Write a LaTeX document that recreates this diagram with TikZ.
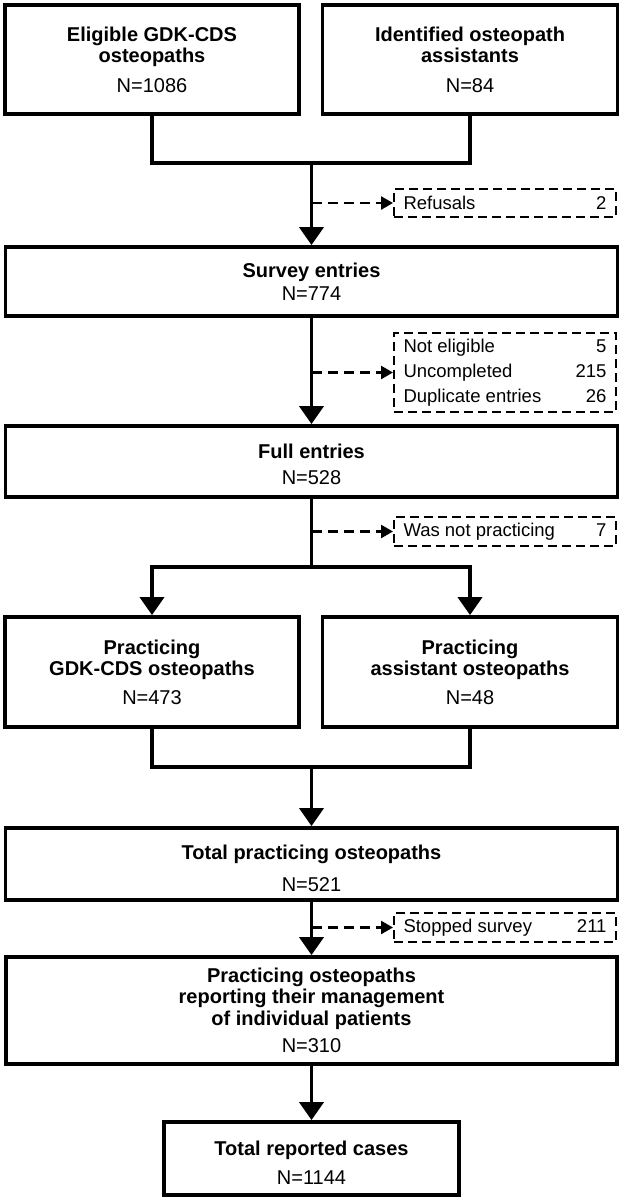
\documentclass[tikz,border=0pt]{standalone}
\usepackage{fontspec}
\setmainfont{Liberation Sans}
\usetikzlibrary{arrows.meta,calc}
\begin{document}
\begin{tikzpicture}[x=1pt,y=-1pt,
  box/.style={draw, line width=3.8pt, inner sep=0pt, align=center,
    font=\fontsize{20}{21.5}\selectfont\bfseries},
  exbox/.style={draw, dash pattern=on 9pt off 5pt, line width=2pt, inner sep=0pt,
    minimum width=222pt, font=\fontsize{18.5}{25}\selectfont},
  conline/.style={line width=3.8pt},
  arr/.style={line width=3.8pt, -{Triangle[width=24pt,length=18pt]}},
  darr/.style={line width=2.5pt, dash pattern=on 10pt off 6pt, -{Triangle[width=13pt,length=12pt]}}]
\useasboundingbox (0,0) rectangle (622,1199);

\node[box, minimum width=294pt, minimum height=109pt] (A) at (152,59.5)
  {Eligible GDK-CDS\\osteopaths\\[8pt]\textmd{N=1086}};
\node[box, minimum width=295pt, minimum height=109pt] (B) at (470,59.5)
  {Identified osteopath\\assistants\\[8pt]\textmd{N=84}};
\coordinate (j1) at (311.5,163);
\node[exbox, minimum height=28pt] (ex1) at (505,203)
  {\makebox[203pt]{Refusals\hfill 2}};
\node[box, minimum width=612pt, minimum height=69pt] (C) at (311.5,281.5)
  {Survey entries\\[1.5pt]\textmd{N=774}};
\node[exbox, minimum height=79pt] (ex2) at (505,372.5)
  {\parbox{203pt}{Not eligible\hfill 5\\Uncompleted\hfill 215\\Duplicate entries\hfill 26}};
\node[box, minimum width=612pt, minimum height=71pt] (D) at (311.5,461.5)
  {\rule{0pt}{21pt}Full entries\\[4.5pt]\textmd{N=528}};
\node[exbox, minimum height=29pt] (ex3) at (505,531.5)
  {\makebox[203pt]{Was not practicing\hfill 7}};
\coordinate (split) at (311.5,567);
\node[box, minimum width=294pt, minimum height=110pt] (E) at (152,672)
  {Practicing\\GDK-CDS osteopaths\\[7pt]\textmd{N=473}};
\node[box, minimum width=295pt, minimum height=110pt] (F) at (470,672)
  {Practicing\\assistant osteopaths\\[7pt]\textmd{N=48}};
\coordinate (j2) at (311.5,767);
\node[box, minimum width=612pt, minimum height=72pt] (G) at (311.5,864)
  {\rule{0pt}{23pt}Total practicing osteopaths\\[10pt]\textmd{N=521}};
\node[exbox, minimum height=29pt] (ex4) at (505,927.5)
  {\makebox[203pt]{Stopped survey\hfill 211}};
\node[box, minimum width=611pt, minimum height=107pt] (H) at (311.5,1010.5)
  {Practicing osteopaths\\reporting their management\\of individual patients\\[6pt]\textmd{N=310}};
\node[box, minimum width=295pt, minimum height=73pt] (I) at (311.5,1158.5)
  {\rule{0pt}{23pt}Total reported cases\\[8pt]\textmd{N=1144}};

\draw[conline] (A.south) |- (j1) -| (B.south);
\draw[arr] (j1) -- (C.north);
\draw[darr] (ex1.west -| j1) -- (ex1.west);
\draw[arr] (C.south) -- (D.north);
\draw[darr] (ex2.west -| C.south) -- (ex2.west);
\draw[conline] (D.south) -- (split);
\draw[arr] (split) -| (E.north);
\draw[arr] (split) -| (F.north);
\draw[darr] (ex3.west -| D.south) -- (ex3.west);
\draw[conline] (E.south) |- (j2) -| (F.south);
\draw[arr] (j2) -- (G.north);
\draw[arr] (G.south) -- (H.north);
\draw[darr] (ex4.west -| G.south) -- (ex4.west);
\draw[arr] (H.south) -- (I.north);
\end{tikzpicture}
\end{document}
